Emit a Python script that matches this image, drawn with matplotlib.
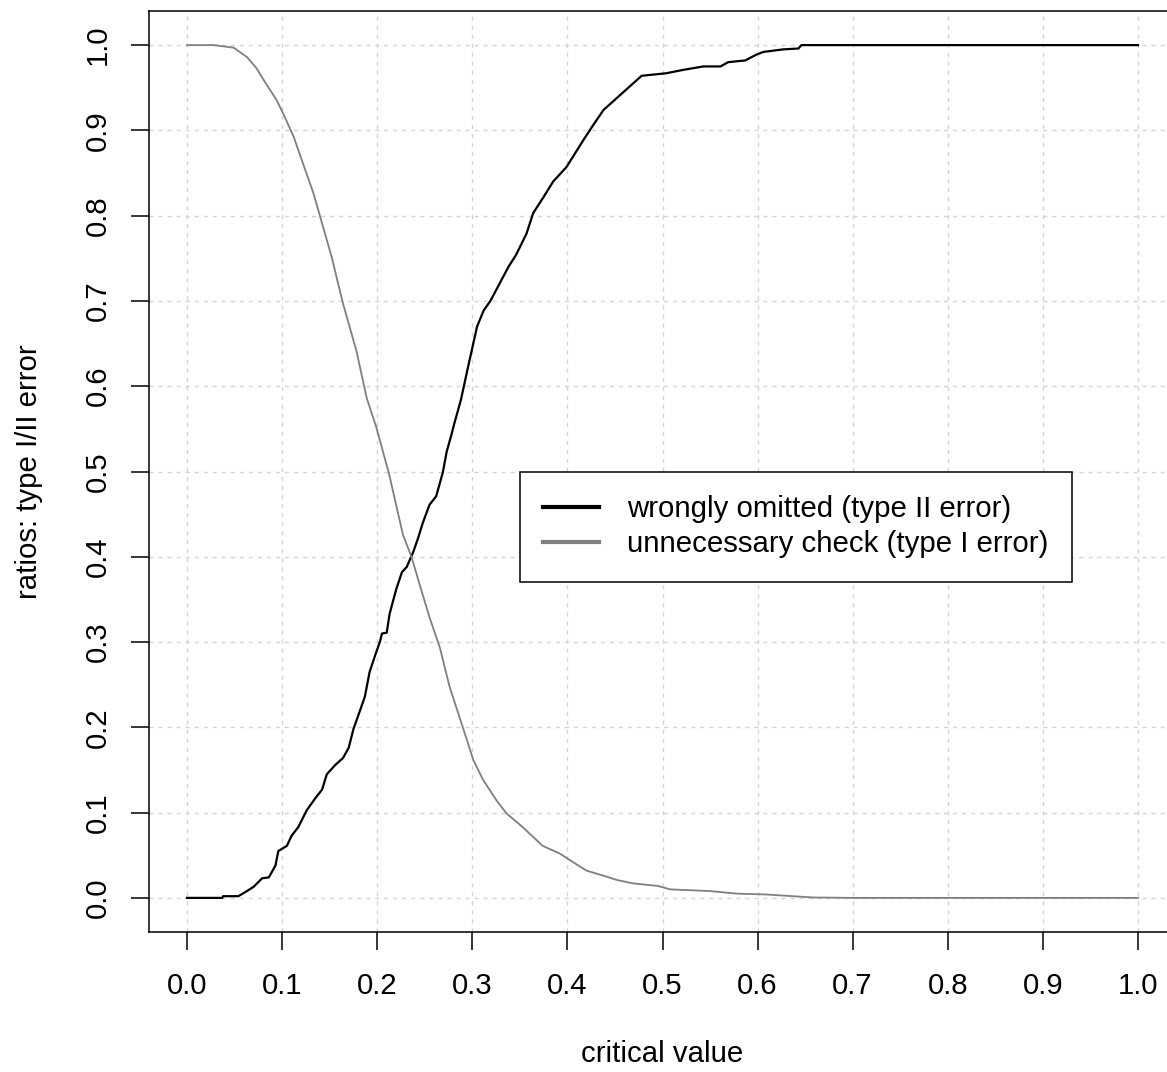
import matplotlib
matplotlib.use('Agg')
import matplotlib.pyplot as plt
import numpy as np

plt.rcParams['font.family'] = ['Liberation Sans', 'DejaVu Sans']

# type II error curve (wrongly omitted)
crit_ii = [0.0, 0.037, 0.038, 0.054, 0.063, 0.070, 0.079, 0.086, 0.093, 0.096,
           0.105, 0.110, 0.117, 0.126, 0.135, 0.142, 0.147, 0.156, 0.164, 0.170,
           0.175, 0.182, 0.187, 0.192, 0.198, 0.203, 0.205, 0.210, 0.213, 0.220,
           0.226, 0.231, 0.238, 0.243, 0.248, 0.255, 0.262, 0.266, 0.269, 0.273,
           0.278, 0.281, 0.288, 0.295, 0.305, 0.312, 0.319, 0.338, 0.346, 0.357,
           0.364, 0.375, 0.385, 0.399, 0.417, 0.427, 0.438, 0.455, 0.469, 0.478,
           0.504, 0.522, 0.543, 0.561, 0.569, 0.587, 0.599, 0.606, 0.627, 0.643,
           0.646, 1.0]
ratio_ii = [0.0, 0.0, 0.002, 0.002, 0.008, 0.013, 0.023, 0.024, 0.038, 0.055,
            0.061, 0.073, 0.083, 0.103, 0.117, 0.127, 0.145, 0.156, 0.164, 0.176,
            0.198, 0.220, 0.236, 0.265, 0.285, 0.301, 0.310, 0.311, 0.333, 0.362,
            0.382, 0.388, 0.406, 0.422, 0.440, 0.461, 0.471, 0.487, 0.499, 0.523,
            0.543, 0.556, 0.584, 0.620, 0.670, 0.689, 0.700, 0.740, 0.754, 0.779,
            0.803, 0.822, 0.840, 0.857, 0.889, 0.906, 0.924, 0.941, 0.955, 0.964,
            0.967, 0.971, 0.975, 0.975, 0.980, 0.982, 0.989, 0.992, 0.995, 0.996,
            1.0, 1.0]

# type I error curve (unnecessary check)
crit_i = [0.0, 0.028, 0.049, 0.063, 0.073, 0.084, 0.094, 0.101, 0.112, 0.122,
          0.133, 0.143, 0.152, 0.164, 0.178, 0.189, 0.199, 0.212, 0.217, 0.227,
          0.236, 0.245, 0.255, 0.266, 0.276, 0.290, 0.301, 0.311, 0.325, 0.336,
          0.353, 0.374, 0.392, 0.403, 0.420, 0.438, 0.452, 0.469, 0.495, 0.508,
          0.550, 0.578, 0.609, 0.637, 0.658, 0.700, 1.0]
ratio_i = [1.0, 1.0, 0.997, 0.986, 0.973, 0.953, 0.936, 0.920, 0.893, 0.861,
           0.826, 0.787, 0.752, 0.697, 0.642, 0.586, 0.552, 0.499, 0.475, 0.426,
           0.400, 0.366, 0.329, 0.293, 0.248, 0.200, 0.162, 0.139, 0.115, 0.099,
           0.083, 0.061, 0.052, 0.044, 0.032, 0.026, 0.021, 0.017, 0.014, 0.010,
           0.008, 0.005, 0.004, 0.002, 0.0005, 0.0, 0.0]

tick_vals = np.round(np.arange(0, 1.01, 0.1), 1)
tick_labels = ['%.1f' % t for t in tick_vals]
labels = ['wrongly omitted (type II error)', 'unnecessary check (type I error)']

fs = 21.2

fig = plt.figure(figsize=(11.67, 10.72), dpi=100)
ax = fig.add_axes([149 / 1167, 140 / 1072, 1027 / 1167, 921 / 1072])

for t in tick_vals:
    ax.axvline(t, color='#D3D3D3', lw=1.0, dashes=(3, 3.5), zorder=0)
    ax.axhline(t, color='#D3D3D3', lw=1.0, dashes=(3, 3.5), zorder=0)

ax.plot(crit_ii, ratio_ii, color='black', lw=1.6)
ax.plot(crit_i, ratio_i, color='#7F7F7F', lw=1.3)

ax.set_xlim(-0.04, 1.04)
ax.set_ylim(-0.04, 1.04)
ax.set_xticks(tick_vals)
ax.set_xticklabels(tick_labels)
ax.set_yticks(tick_vals)
ax.set_yticklabels(tick_labels, rotation=90, va='center')
ax.tick_params(axis='both', labelsize=fs, length=13, width=1.1, direction='out')
ax.tick_params(axis='x', pad=16)
ax.tick_params(axis='y', pad=14)
for sp in ax.spines.values():
    sp.set_linewidth(1.1)

ax.set_xlabel('critical value', fontsize=fs)
ax.set_ylabel('ratios: type I/II error', fontsize=fs)
ax.xaxis.set_label_coords(0.5, -0.117)
ax.yaxis.set_label_coords(-0.103, 0.5)

h1, = ax.plot([], [], color='black', lw=3)
h2, = ax.plot([], [], color='#7F7F7F', lw=3)
leg = ax.legend([h1, h2], labels, loc='upper left', bbox_to_anchor=(0.35, 0.5),
                bbox_transform=ax.transData, fontsize=fs, frameon=True,
                fancybox=False, edgecolor='black', framealpha=1,
                borderaxespad=0, borderpad=0.8, handlelength=1.9,
                handletextpad=0.95, labelspacing=0.25)
leg.get_frame().set_linewidth(1.1)

fig.savefig('out.png', dpi=100)
